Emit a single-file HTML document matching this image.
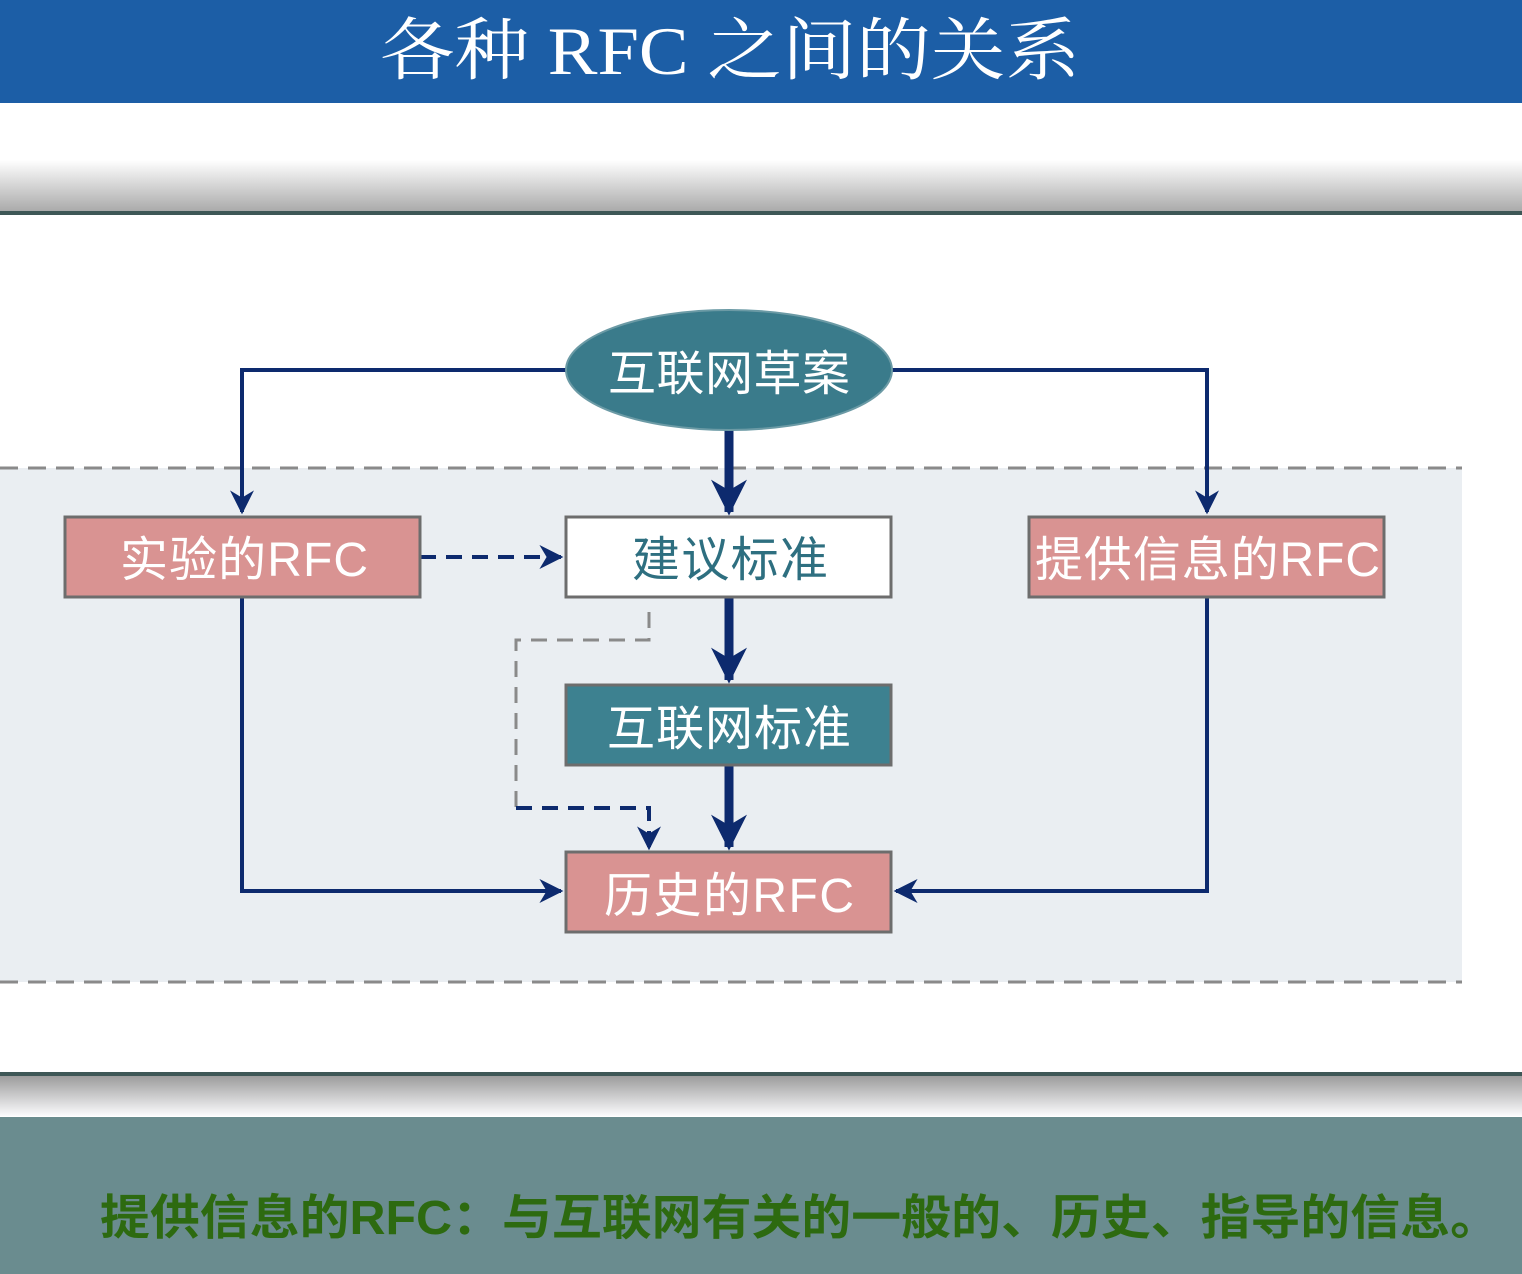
<!DOCTYPE html>
<html><head><meta charset="utf-8"><style>
html,body{margin:0;padding:0;width:1522px;height:1274px;overflow:hidden;background:#fff}
</style></head><body>
<svg width="1522" height="1274" xmlns="http://www.w3.org/2000/svg" style="display:block">
<defs>
<linearGradient id="g1" x1="0" y1="0" x2="0" y2="1"><stop offset="0" stop-color="#fff"/><stop offset="1" stop-color="#a9a9a9"/></linearGradient>
<linearGradient id="g2" x1="0" y1="0" x2="0" y2="1"><stop offset="0" stop-color="#9c9c9c"/><stop offset="1" stop-color="#fbfbfd"/></linearGradient>
<marker id="a" viewBox="0 0 10 10" refX="9" refY="5" markerWidth="6" markerHeight="6" orient="auto" markerUnits="strokeWidth"><path d="M0,0 L10,5 L0,10 L3,5z" fill="#0d2a6e"/></marker>
<marker id="ab" viewBox="0 0 10 10" refX="9" refY="5" markerWidth="4" markerHeight="4" orient="auto" markerUnits="strokeWidth"><path d="M0,0 L10,5 L0,10 L3,5z" fill="#0d2a6e"/></marker>
</defs>
<rect x="0" y="0" width="1522" height="103" fill="#1c5ea6"/>
<text x="380" y="74" textLength="700" lengthAdjust="spacingAndGlyphs" font-family="'Liberation Serif','Noto Serif CJK SC',serif" font-size="68" fill="#fff">各种 RFC 之间的关系</text>
<rect x="0" y="160" width="1522" height="52" fill="url(#g1)"/>
<rect x="0" y="211" width="1522" height="4" fill="#3e5756"/>
<rect x="0" y="1072" width="1522" height="4" fill="#3e5756"/>
<rect x="0" y="1076" width="1522" height="40" fill="url(#g2)"/>
<rect x="0" y="1117" width="1522" height="157" fill="#6a8c8f"/>
<text x="100" y="1234" textLength="1400" lengthAdjust="spacingAndGlyphs" font-family="'Liberation Sans','Noto Sans CJK SC',sans-serif" font-weight="bold" font-size="48" fill="#2d6a10">提供信息的RFC：与互联网有关的一般的、历史、指导的信息。</text>

<rect x="0" y="468" width="1462" height="514" fill="#eaeef2"/>
<path d="M0,468 H1462 M0,982 H1462" stroke="#8a8a8a" stroke-width="3" stroke-dasharray="18,10" fill="none"/>

<path d="M566,370 H242 V512" stroke="#0d2a6e" stroke-width="4" fill="none" marker-end="url(#a)"/>
<path d="M891,370 H1207 V512" stroke="#0d2a6e" stroke-width="4" fill="none" marker-end="url(#a)"/>
<path d="M242,597 V891 H561" stroke="#0d2a6e" stroke-width="4" fill="none" marker-end="url(#a)"/>
<path d="M1207,597 V891 H896" stroke="#0d2a6e" stroke-width="4" fill="none" marker-end="url(#a)"/>
<path d="M729,430 V512" stroke="#0d2a6e" stroke-width="9" fill="none" marker-end="url(#ab)"/>
<path d="M729,597 V680" stroke="#0d2a6e" stroke-width="9" fill="none" marker-end="url(#ab)"/>
<path d="M729,765 V847" stroke="#0d2a6e" stroke-width="9" fill="none" marker-end="url(#ab)"/>
<path d="M420,557 H561" stroke="#0d2a6e" stroke-width="4" stroke-dasharray="16,10" fill="none" marker-end="url(#a)"/>
<path d="M649,612 V640 H516 V808" stroke="#8a8a8a" stroke-width="3" stroke-dasharray="16,10" fill="none"/>
<path d="M516,808 H649 V848" stroke="#0d2a6e" stroke-width="4" stroke-dasharray="16,10" fill="none" marker-end="url(#a)"/>

<ellipse cx="729" cy="370" rx="163" ry="60" fill="#3a7b8b" stroke="#6b9aa5" stroke-width="2"/>
<g font-family="'Liberation Sans','Noto Sans CJK SC',sans-serif" font-size="48" lengthAdjust="spacingAndGlyphs">
<text x="608" y="390" textLength="242" fill="#fff">互联网草案</text>
<rect x="65" y="517" width="355" height="80" fill="#d99392" stroke="#6d6d6d" stroke-width="3"/>
<text x="120" y="576" textLength="248" fill="#fff">实验的RFC</text>
<rect x="566" y="517" width="325" height="80" fill="#fff" stroke="#6d6d6d" stroke-width="3"/>
<text x="632" y="576" textLength="196" fill="#2e6f80">建议标准</text>
<rect x="1029" y="517" width="355" height="80" fill="#d99392" stroke="#6d6d6d" stroke-width="3"/>
<text x="1035" y="576" textLength="345" fill="#fff">提供信息的RFC</text>
<rect x="566" y="685" width="325" height="80" fill="#3d8190" stroke="#6d6d6d" stroke-width="3"/>
<text x="607" y="745" textLength="244" fill="#fff">互联网标准</text>
<rect x="566" y="852" width="325" height="80" fill="#d99392" stroke="#6d6d6d" stroke-width="3"/>
<text x="604" y="912" textLength="250" fill="#fff">历史的RFC</text>
</g>
</svg>
</body></html>
